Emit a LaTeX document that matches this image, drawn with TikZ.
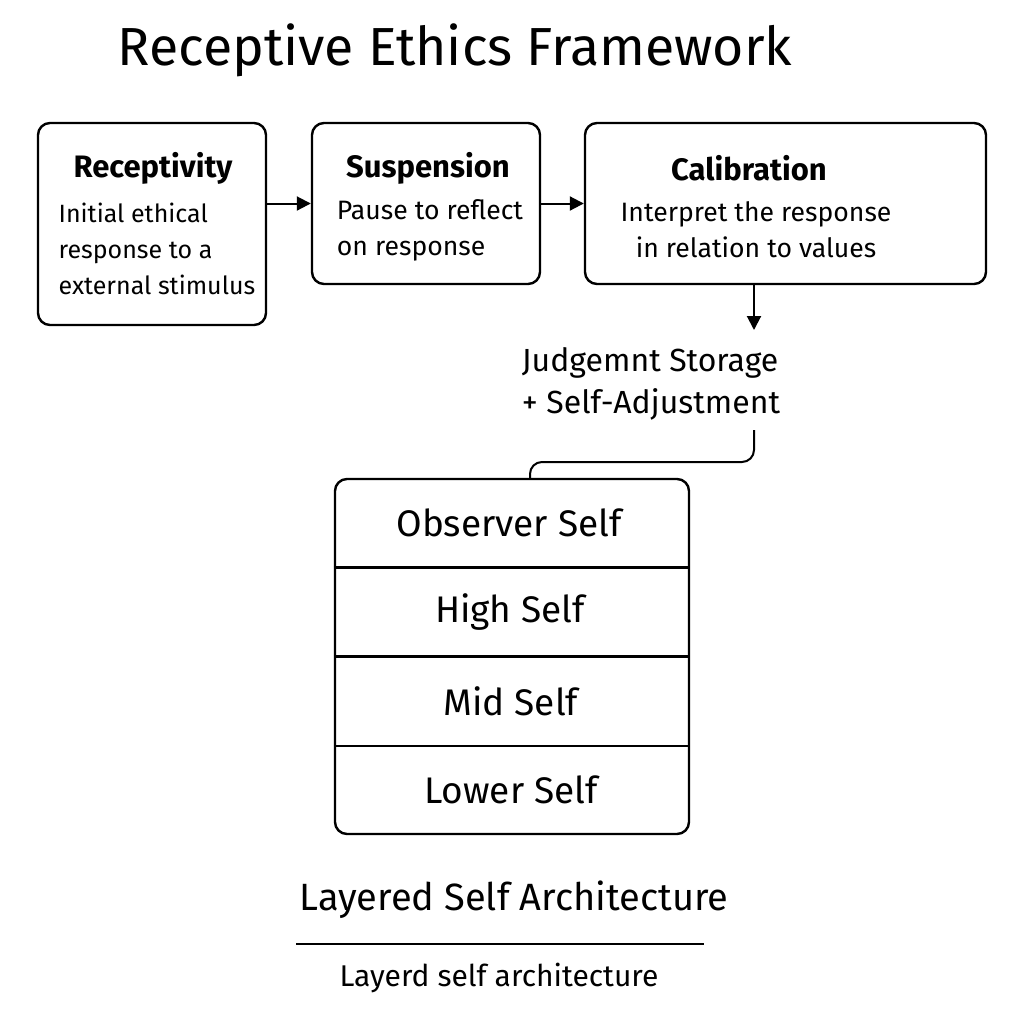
\documentclass[tikz,border=0pt]{standalone}
\usepackage{fontspec}
\setmainfont{Fira Sans}
\usetikzlibrary{positioning,arrows.meta,calc}

\begin{document}
\begin{tikzpicture}[x=0.5pt,y=-0.5pt,>={Triangle[length=7pt,width=7pt]}]

\useasboundingbox (0,0) rectangle (1024,1024);

% Title

\node[font=\fontsize{26.8}{32}\selectfont] (TitleNode) at (455,50) {Receptive Ethics Framework};

% Stages

\node[rectangle, draw, line width=1.2pt, rounded corners=6pt, minimum width=114pt, minimum height=101pt] (ReceptivityBox) at (152,224) {};
\node[rectangle, draw, line width=1.2pt, rounded corners=6pt, minimum width=114pt, minimum height=80.5pt] (SuspensionBox) at (426,203.5) {};
\node[rectangle, draw, line width=1.2pt, rounded corners=6pt, minimum width=200.5pt, minimum height=80.5pt] (CalibrationBox) at (785.5,203.5) {};

\node[font=\fontsize{15.5}{18}\selectfont\bfseries] (ReceptivityHead) at (153,168) {Receptivity};
\node[font=\fontsize{15.5}{18}\selectfont\bfseries] (SuspensionHead) at (428,168) {Suspension};
\node[font=\fontsize{15.5}{18}\selectfont\bfseries] (CalibrationHead) at (749,168) {Calibration};

\node[font=\fontsize{12.5}{18}\selectfont, align=left] (ReceptivityText) at (157,249) {Initial ethical\\response to a\\external stimulus};
\node[font=\fontsize{13.3}{18}\selectfont, align=left] (SuspensionText) at (430,230) {Pause to reflect\\on response};
\node[font=\fontsize{13.3}{18}\selectfont, align=center] (CalibrationText) at (756,230) {Interpret the response\\in relation to values};

% Stage arrows

\draw[line width=1pt,->] (ReceptivityBox.east |- SuspensionBox.west) -- (SuspensionBox.west);
\draw[line width=1pt,->] (SuspensionBox.east) -- (CalibrationBox.west);

% Judgement

\coordinate (JudgementTop) at (754,330);
\coordinate (JudgementEnd) at (754,430);

\node[font=\fontsize{16}{21}\selectfont, align=left] (JudgementText) at (651,384) {Judgemnt Storage\\+ Self-Adjustment};

\draw[line width=1pt,->] (CalibrationBox.south -| JudgementTop) -- (JudgementTop);

% Layered self

\node[rectangle, draw, line width=1.2pt, rounded corners=6pt, minimum width=177pt, minimum height=177.5pt] (StackFrame) at (512,656.5) {};

\coordinate (StackJoin) at (530,479);

\draw[line width=1pt, rounded corners=6pt] (JudgementEnd) -- ++(0,32) -| (StackJoin);

\node[font=\fontsize{18.5}{22}\selectfont, minimum height=44pt, inner sep=0pt] (LayerNode0) at (509,523) {Observer Self};
\node[font=\fontsize{18.5}{22}\selectfont, minimum height=44pt, inner sep=0pt] (LayerNode1) at (510,612) {High Self};
\node[font=\fontsize{18.5}{22}\selectfont, minimum height=44pt, inner sep=0pt] (LayerNode2) at (511,701.5) {Mid Self};
\node[font=\fontsize{18.5}{22}\selectfont, minimum height=44pt, inner sep=0pt] (LayerNode3) at (511,790) {Lower Self};

\draw[line width=1.2pt] (StackFrame.west |- LayerNode0.south) -- (StackFrame.east |- LayerNode0.south);
\draw[line width=1.2pt] (StackFrame.west |- LayerNode1.south) -- (StackFrame.east |- LayerNode1.south);
\draw[line width=1.2pt] (StackFrame.west |- LayerNode2.south) -- (StackFrame.east |- LayerNode2.south);

% Caption

\node[font=\fontsize{19}{22}\selectfont] (ArchLabel) at (514,900) {Layered Self Architecture};

\coordinate (RuleLeft) at (296,944);
\coordinate (RuleRight) at (704,944);
\draw[line width=0.6pt] (RuleLeft) -- (RuleRight);

\node[font=\fontsize{15}{18}\selectfont] (ArchCaption) at (499,978) {Layerd self architecture};

\end{tikzpicture}
\end{document}
